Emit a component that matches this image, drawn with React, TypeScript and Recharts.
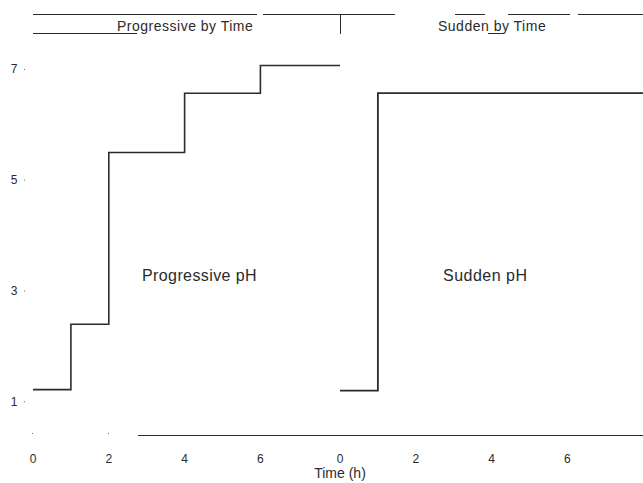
import React from 'react';
import { LineChart, Line, XAxis, YAxis } from 'recharts';

// progressive panel: pH steps by hour
const progressiveTime = [0, 1, 2, 4, 6, 8.1];
const progressivePh = [1.22, 2.4, 5.5, 6.57, 7.07, 7.07];

// sudden panel
const suddenTime = [0, 1, 8];
const suddenPh = [1.2, 6.57, 6.57];

const yTicks = [1, 3, 5, 7];
const xTicks = [0, 2, 4, 6];

const FONT = '"Liberation Sans", Arial, sans-serif';
const INK = '#2b2b2b';

const progressiveData = progressiveTime.map((t, i) => ({ t, ph: progressivePh[i] }));
const suddenData = suddenTime.map((t, i) => ({ t, ph: suddenPh[i] }));

const YTick = ({ x, y, payload }: any) => (
  <g>
    <text x={14} y={y} dy={4} textAnchor="middle" fontSize={12} fill={INK} fontFamily={FONT}>
      {payload.value}
    </text>
    <rect x={x - 1} y={y - 0.5} width={1} height={1} fill="#666" />
  </g>
);

const XTick = ({ x, y, payload }: any) => (
  <g>
    <text x={x} y={y + 20} textAnchor="middle" fontSize={12} fill={INK} fontFamily={FONT}>
      {payload.value}
    </text>
  </g>
);

const hLine = (left: number, top: number, width: number, h = 1) => (
  <div style={{ position: 'absolute', left, top, width, height: h, background: INK }} />
);

const App: React.FC = () => {
  return (
    <div style={{ position: 'absolute', left: 0, top: 0, width: 643, height: 483, background: '#fff', fontFamily: FONT }}>
      {/* strip headers */}
      {hLine(33, 14, 224)}
      {hLine(263, 14, 132)}
      {hLine(455, 14, 30)}
      {hLine(508, 14, 62)}
      {hLine(578, 14, 65)}
      {hLine(33, 33, 104)}
      <div style={{ position: 'absolute', left: 340, top: 14, width: 1, height: 20, background: INK }} />
      <div style={{ position: 'absolute', left: 117, top: 18, fontSize: 14, letterSpacing: 0.5, color: INK }}>Progressive by Time</div>
      <div style={{ position: 'absolute', left: 438, top: 18, fontSize: 14, letterSpacing: 0.5, color: INK }}>Sudden by Time</div>
      {hLine(488, 33, 16)}

      <div style={{ position: 'absolute', left: 0, top: 0 }}>
        <LineChart width={340} height={483} data={progressiveData} margin={{ top: 14, right: 0, bottom: 0, left: 0 }}>
          <XAxis
            dataKey="t"
            type="number"
            domain={[0, 8.1]}
            ticks={xTicks}
            interval={0}
            axisLine={false}
            tickLine={false}
            height={48}
            tick={<XTick />}
          />
          <YAxis
            type="number"
            domain={[0.4, 8]}
            ticks={yTicks}
            interval={0}
            width={33}
            axisLine={false}
            tickLine={false}
            tick={<YTick />}
          />
          <Line
            type="stepAfter"
            dataKey="ph"
            stroke={INK}
            strokeWidth={1.6}
            dot={false}
            isAnimationActive={false}
          />
        </LineChart>
      </div>

      <div style={{ position: 'absolute', left: 328, top: 0 }}>
        <LineChart width={315} height={483} data={suddenData} margin={{ top: 14, right: 0, bottom: 0, left: 12 }}>
          <XAxis
            dataKey="t"
            type="number"
            domain={[0, 8]}
            ticks={xTicks}
            interval={0}
            axisLine={false}
            tickLine={false}
            height={48}
            tick={<XTick />}
          />
          <YAxis type="number" domain={[0.4, 8]} hide />
          <Line
            type="stepAfter"
            dataKey="ph"
            stroke={INK}
            strokeWidth={1.8}
            dot={false}
            isAnimationActive={false}
          />
        </LineChart>
      </div>

      {/* bottom axis rule */}
      {hLine(138, 435, 505)}
      <div style={{ position: 'absolute', left: 32, top: 433, width: 1, height: 1, background: '#666' }} />
      <div style={{ position: 'absolute', left: 108, top: 433, width: 1, height: 1, background: '#666' }} />

      <div style={{ position: 'absolute', left: 142, top: 267, fontSize: 16, letterSpacing: 0.4, color: INK }}>Progressive pH</div>
      <div style={{ position: 'absolute', left: 443, top: 267, fontSize: 16, letterSpacing: 0.5, color: INK }}>Sudden pH</div>
      <div style={{ position: 'absolute', left: 0, width: 680, textAlign: 'center', top: 465, fontSize: 14, color: INK }}>
        Time (h)
      </div>
    </div>
  );
};

export default App;
